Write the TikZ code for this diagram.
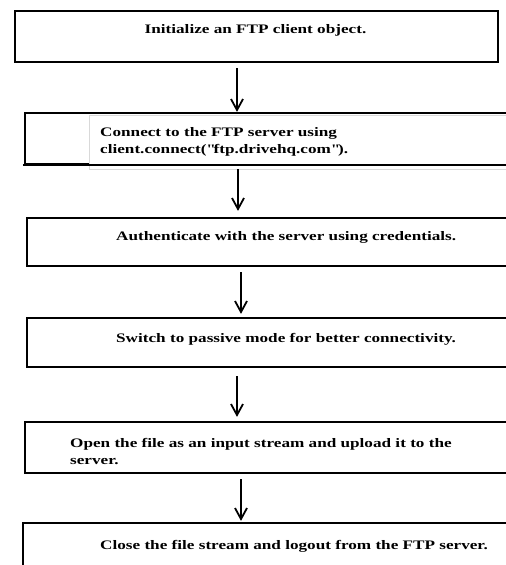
\documentclass[tikz,border=0pt]{standalone}
\usepackage{fontspec}
\setmainfont[FakeStretch=1.32]{Liberation Serif}
\usetikzlibrary{arrows.meta}
\begin{document}
\begin{tikzpicture}[x=1pt,y=-1pt,
  box/.style={draw=black, line width=2.2pt, rectangle, inner sep=0pt},
  txt/.style={font=\fontsize{13}{17}\selectfont\bfseries, inner sep=0pt, align=left},
  arr/.style={line width=1.8pt, -{Straight Barb[length=11pt,width=12pt,line width=1.8pt]}}]
\useasboundingbox (0,0) rectangle (506,565);
\clip (0,0) rectangle (506,565);
% process steps
\node[box, minimum width=483pt, minimum height=51pt] (b1) at (256.5,36.5) {};
\node[txt, anchor=center] (t1) at (255.5,30) {Initialize an FTP client object.};
\node[box, minimum width=490pt, minimum height=51pt] (b2) at (270,138.5) {};
% pasted text frame lying over the second step
\node[fill=white, draw=gray!30, line width=1.2pt, inner sep=0pt, anchor=north west,
      minimum width=430pt, minimum height=54pt] (f2) at (88.5,114.6) {};
\draw[line width=2.2pt] ([xshift=-1.1pt]b2.south west) -- ([xshift=1.1pt]b2.south east);
\node[txt, anchor=west] (t2) at (100,141.5) {Connect to the FTP server using\\client.connect(\textquotedbl ftp.drivehq.com\textquotedbl).};
\node[box, minimum width=488pt, minimum height=48pt] (b3) at (271,242) {};
\node[txt, anchor=west] (t3) at (116,237) {Authenticate with the server using credentials.};
\node[box, minimum width=488pt, minimum height=49pt] (b4) at (271,342.5) {};
\node[txt, anchor=west] (t4) at (116,339) {Switch to passive mode for better connectivity.};
\node[box, minimum width=490pt, minimum height=51pt] (b5) at (270,447.5) {};
\node[txt, anchor=west] (t5) at (70,451.5) {Open the file as an input stream and upload it to the\\server.};
\node[box, minimum width=492pt, minimum height=52pt] (b6) at (269,549) {};
\node[txt, anchor=west] (t6) at (100,546) {Close the file stream and logout from the FTP server.};
% flow arrows
\draw[arr] ([xshift=-19.5pt,yshift=-5pt]b1.south) -- ([xshift=-33pt]b2.north);
\draw[arr] ([xshift=-32pt,yshift=-4pt]b2.south) -- ([xshift=-33pt,yshift=6pt]b3.north);
\draw[arr] ([xshift=-30pt,yshift=-5pt]b3.south) -- ([xshift=-30pt,yshift=3pt]b4.north);
\draw[arr] ([xshift=-34pt,yshift=-8pt]b4.south) -- ([xshift=-33pt,yshift=4pt]b5.north);
\draw[arr] ([xshift=-29pt,yshift=-5pt]b5.south) -- ([xshift=-28pt,yshift=1pt]b6.north);
\end{tikzpicture}
\end{document}
